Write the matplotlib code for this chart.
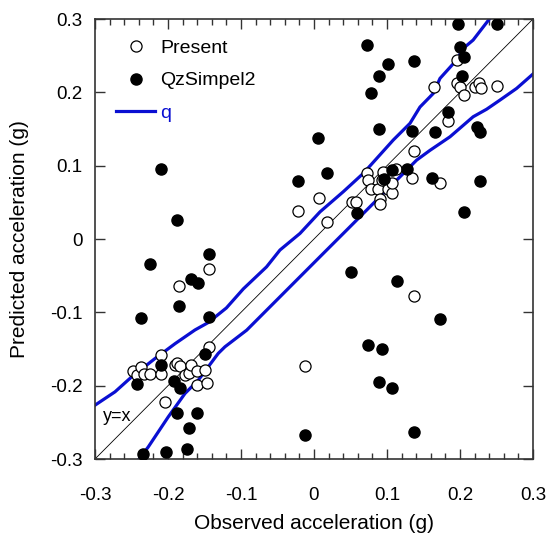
import numpy as np
import matplotlib.pyplot as plt
from matplotlib.ticker import MultipleLocator

plt.rcParams['font.family'] = ['Liberation Sans', 'DejaVu Sans']

# Present model (open circles)
present_x = [-0.2475, -0.243, -0.2375, -0.2326, -0.2247, -0.210, -0.2101, -0.2035,
             -0.1904, -0.1873, -0.1836, -0.1767, -0.1712, -0.1685, -0.1598, -0.1493,
             -0.1598, -0.147, -0.1434, -0.1845, -0.1434, -0.0123,
             -0.0215, 0.007, 0.0173, 0.0515, 0.0575,
             0.0721, 0.0744, 0.0776, 0.088, 0.0904, 0.0904, 0.095, 0.0936, 0.1018,
             0.1063, 0.1063, 0.113, 0.1337, 0.137, 0.1726, 0.137,
             0.1644, 0.1963, 0.200, 0.2059, 0.2205, 0.2264, 0.2288, 0.251, 0.1963, 0.184]
present_y = [-0.180, -0.186, -0.174, -0.1834, -0.1843, -0.1575, -0.1843, -0.2221,
             -0.172, -0.169, -0.1734, -0.1857, -0.1825, -0.172, -0.180, -0.1788,
             -0.199, -0.197, -0.147, -0.0638, -0.041, -0.1734,
             0.038, 0.056, 0.0235, 0.0508, 0.0508,
             0.0895, 0.0804, 0.0677, 0.0677, 0.054, 0.0472, 0.0917, 0.0804, 0.0677,
             0.063, 0.0759, 0.095, 0.0827, 0.120, 0.0767, -0.0775,
             0.2077, 0.2123, 0.2077, 0.1963, 0.2077, 0.2123, 0.2063, 0.209, 0.244, 0.1608]

# QzSimpel2 (filled circles)
qz_x = [-0.210, -0.188, -0.1434, -0.2247, -0.169, -0.1585, -0.1845, -0.237, -0.1434,
        -0.1493, -0.210, -0.243, -0.1914, -0.1836, -0.1877, -0.1598, -0.1712,
        -0.2338, -0.2027, -0.1745, -0.0123,
        -0.0215, 0.0055, 0.0173, 0.0584, 0.0963, 0.1063, 0.1278, 0.162,
        0.0721, 0.101, 0.137, 0.0895, 0.078, 0.1347, 0.0895,
        0.1977, 0.251, 0.200, 0.2059, 0.2032, 0.184, 0.1658, 0.2227, 0.2274,
        0.2274, 0.2055,
        0.0502, 0.1131, 0.1726, 0.0744, 0.0932, 0.0895, 0.1073, 0.1374]
qz_y = [0.096, 0.026, -0.021, -0.0347, -0.0547, -0.0597, -0.0915, -0.1083, -0.107,
        -0.157, -0.172, -0.198, -0.1934, -0.203, -0.237, -0.237, -0.2576,
        -0.2925, -0.290, -0.287, -0.2675,
        0.079, 0.138, 0.0895, 0.0349, 0.0813, 0.094, 0.095, 0.0835,
        0.265, 0.238, 0.243, 0.222, 0.199, 0.1476, 0.1495,
        0.2928, 0.2928, 0.2614, 0.2477, 0.2227, 0.1735, 0.1463, 0.153, 0.1463,
        0.079, 0.037,
        -0.0456, -0.0574, -0.1097, -0.1447, -0.1493, -0.1948, -0.2038, -0.2638]

# q bounds
upper_x = [-0.30, -0.2726, -0.2498, -0.2178, -0.19, -0.163, -0.145, -0.12, -0.0968,
           -0.065, -0.0466, -0.0192, 0.0082, 0.040, 0.0675, 0.1086, 0.1315, 0.1452,
           0.1635, 0.1726, 0.1953, 0.2045, 0.218, 0.241]
upper_y = [-0.2266, -0.2084, -0.188, -0.163, -0.1425, -0.124, -0.114, -0.094, -0.068,
           -0.038, -0.015, 0.0076, 0.037, 0.0644, 0.0895, 0.135, 0.1577, 0.180,
           0.1986, 0.219, 0.244, 0.26, 0.2713, 0.301]
lower_x = [-0.2407, -0.227, -0.1996, -0.1767, -0.1585, -0.1312, -0.122, -0.0922,
           -0.0192, 0.0127, 0.0448, 0.0813, 0.113, 0.1406, 0.159, 0.1863, 0.218,
           0.2365, 0.2548, 0.2776, 0.30]
lower_y = [-0.3016, -0.2835, -0.2425, -0.2106, -0.1925, -0.156, -0.147, -0.1243,
           -0.0515, -0.0197, 0.0122, 0.0486, 0.080, 0.1076, 0.121, 0.1394, 0.1667,
           0.177, 0.1895, 0.2054, 0.225]

ticks = [-0.3, -0.2, -0.1, 0, 0.1, 0.2, 0.3]
tick_labels = ['-0.3', '-0.2', '-0.1', '0', '0.1', '0.2', '0.3']

blue = '#0a0fd2'

fig = plt.figure(figsize=(5.51, 5.39), dpi=100)
ax = fig.add_axes([0.1724, 0.1484, 0.7949, 0.8163])

ax.plot([-0.3, 0.3], [-0.3, 0.3], color='black', lw=0.6, zorder=1)
ax.plot(upper_x, upper_y, color=blue, lw=2.3, zorder=2)
ax.plot(lower_x, lower_y, color=blue, lw=2.3, zorder=2, label='q')
ax.plot(present_x, present_y, 'o', ms=8, mfc='white', mec='black', mew=0.9,
        ls='none', zorder=3, label='Present')
ax.plot(qz_x, qz_y, 'o', ms=8, mfc='black', mec='black', ls='none',
        zorder=4, label='QzSimpel2')

ax.text(-0.2886, -0.2425, 'y=x', fontsize=13, va='center', ha='left')

ax.set_xlim(-0.3, 0.3)
ax.set_ylim(-0.3, 0.3)
ax.set_xticks(ticks)
ax.set_xticklabels(tick_labels)
ax.set_yticks(ticks)
ax.set_yticklabels(tick_labels)
ax.xaxis.set_minor_locator(MultipleLocator(0.02))
ax.tick_params(axis='x', which='major', direction='in', top=True, length=7,
               width=1, pad=20, labelsize=13.5, color='#333333')
ax.tick_params(axis='x', which='minor', direction='in', top=True, length=4,
               width=1, color='#333333')
ax.tick_params(axis='y', which='major', direction='in', right=True, length=7,
               width=1, pad=9, labelsize=13.5, color='#333333')
for s in ax.spines.values():
    s.set_color('#333333')
    s.set_linewidth(1.2)

ax.set_xlabel('Observed acceleration (g)', fontsize=15, labelpad=7.5)
ax.set_ylabel('Predicted acceleration (g)', fontsize=15, labelpad=15)

h, l = ax.get_legend_handles_labels()
order = [1, 2, 0]
leg = ax.legend([h[i] for i in order], [l[i] for i in order], loc='upper left',
                bbox_to_anchor=(0.009, 0.993), frameon=False, fontsize=14,
                handlelength=2.0, handletextpad=0.25, labelspacing=0.75)
leg.get_texts()[2].set_color(blue)

fig.savefig('out.png', dpi=100)
